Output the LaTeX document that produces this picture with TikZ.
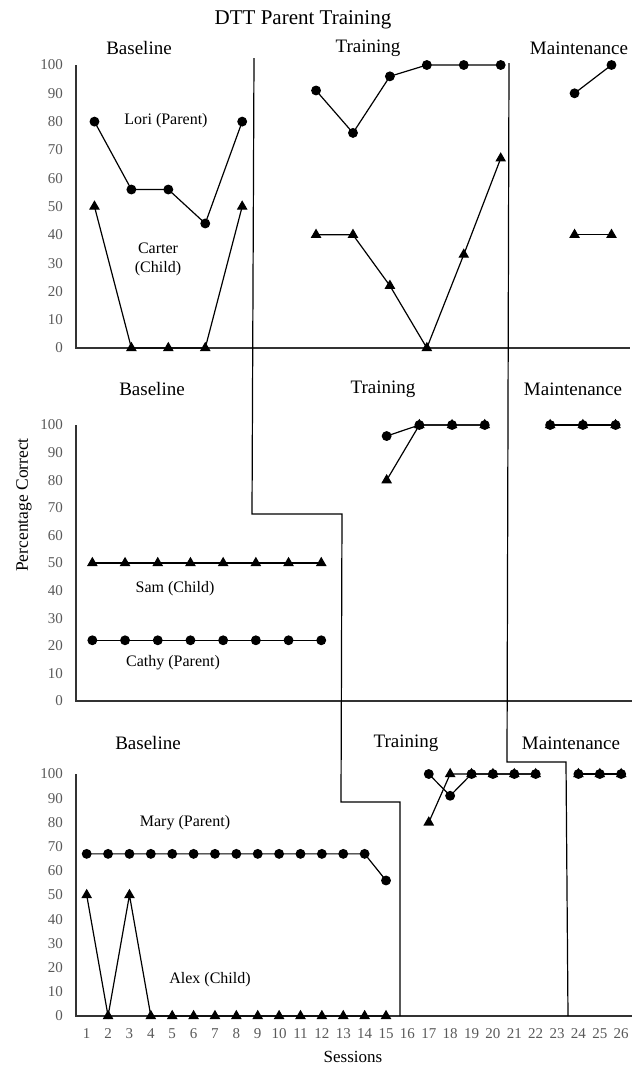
\documentclass[tikz,border=0pt]{standalone}
\usepackage{fontspec}
\setmainfont{Liberation Serif}
\usetikzlibrary{plotmarks}
\definecolor{tickgray}{HTML}{595959}
\tikzset{
  parent/.style={line width=1.2pt, mark=*, mark size=4.3pt, mark options={solid, fill=black}},
  child/.style={line width=1.2pt, mark=triangle*, mark size=5pt, mark options={solid, fill=black}},
  axisline/.style={line width=1.4pt, draw=black!80},
  phaseline/.style={line width=1.2pt},
  ticklabel/.style={font=\fontsize{15}{15}\selectfont, text=tickgray, inner sep=0pt},
  phasename/.style={font=\fontsize{19}{19}\selectfont, inner sep=0pt},
  who/.style={font=\fontsize{16}{19}\selectfont, inner sep=0pt, align=center},
}
\begin{document}
\begin{tikzpicture}[x=1pt, y=-1pt]
\useasboundingbox (0,0) rectangle (640,1066);
\node[font=\fontsize{21}{21}\selectfont, inner sep=0pt] (title) at (303,20) {DTT Parent Training};
% top: Lori and Carter
\begin{scope}[shift={(76pt,-348pt)}, x=36.93pt, y=2.83pt]
\draw[axisline] (0,100) -- (0,0) -- (15,0);
\foreach \v in {0,10,...,100} \node[ticklabel, anchor=east, xshift=-13pt] (ta\v) at (0,\v) {\v};
\draw[child] plot coordinates {(0.5,50) (1.5,0) (2.5,0) (3.5,0) (4.5,50)};
\draw[child] plot coordinates {(6.5,40) (7.5,40) (8.5,22) (9.5,0) (10.5,33) (11.5,67)};
\draw[child] plot coordinates {(13.5,40) (14.5,40)};
\draw[parent] plot coordinates {(0.5,80) (1.5,56) (2.5,56) (3.5,44) (4.5,80)};
\draw[parent] plot coordinates {(6.5,91) (7.5,76) (8.5,96) (9.5,100) (10.5,100) (11.5,100)};
\draw[parent] plot coordinates {(13.5,90) (14.5,100)};
\end{scope}
\node[phasename] (base1) at (139,48) {Baseline};
\node[phasename] (train1) at (368,48) {Training};
\node[phasename] (maint1) at (579,48) {Maintenance};
\node[who] (lori) at (166,121) {Lori (Parent)};
\node[who] (carter) at (158,259) {Carter\\(Child)};
% middle: Cathy and Sam
\begin{scope}[shift={(76pt,-701pt)}, x=32.7pt, y=2.76pt]
\draw[axisline] (0,100) -- (0,0) -- (17,0);
\foreach \v in {0,10,...,100} \node[ticklabel, anchor=east, xshift=-13pt] (tb\v) at (0,\v) {\v};
\draw[child] plot[samples at={0.5,1.5,...,7.5}] (\x,50);
\draw[child] plot coordinates {(9.5,80) (10.5,100) (11.5,100) (12.5,100)};
\draw[child] plot coordinates {(14.5,100) (15.5,100) (16.5,100)};
\draw[parent] plot[samples at={0.5,1.5,...,7.5}] (\x,22);
\draw[parent] plot coordinates {(9.5,96) (10.5,100) (11.5,100) (12.5,100)};
\draw[parent] plot coordinates {(14.5,100) (15.5,100) (16.5,100)};
\end{scope}
\node[phasename] (base2) at (152,389) {Baseline};
\node[phasename] (train2) at (383,389) {Training};
\node[phasename] (maint2) at (573,389) {Maintenance};
\node[who] (sam) at (175,589) {Sam (Child)};
\node[who] (cathy) at (173,663) {Cathy (Parent)};
% bottom: Mary and Alex
\begin{scope}[shift={(76pt,-1016pt)}, x=21.38pt, y=2.42pt]
\draw[axisline] (0,100) -- (0,0) -- (26,0);
\foreach \v in {0,10,...,100} \node[ticklabel, anchor=east, xshift=-13pt] (tc\v) at (0,\v) {\v};
\foreach \s in {1,...,26} \node[ticklabel, yshift=-18pt] (s\s) at (\s-0.5,0) {\s};
\draw[child] plot coordinates {(0.5,50) (1.5,0) (2.5,50) (3.5,0) (4.5,0) (5.5,0) (6.5,0) (7.5,0)
  (8.5,0) (9.5,0) (10.5,0) (11.5,0) (12.5,0) (13.5,0) (14.5,0)};
\draw[child] plot coordinates {(16.5,80) (17.5,100) (18.5,100) (19.5,100) (20.5,100) (21.5,100)};
\draw[child] plot coordinates {(23.5,100) (24.5,100) (25.5,100)};
\draw[parent] plot coordinates {(0.5,67) (1.5,67) (2.5,67) (3.5,67) (4.5,67) (5.5,67) (6.5,67) (7.5,67)
  (8.5,67) (9.5,67) (10.5,67) (11.5,67) (12.5,67) (13.5,67) (14.5,56)};
\draw[parent] plot coordinates {(16.5,100) (17.5,91) (18.5,100) (19.5,100) (20.5,100) (21.5,100)};
\draw[parent] plot coordinates {(23.5,100) (24.5,100) (25.5,100)};
\end{scope}
\node[phasename] (base3) at (148,743) {Baseline};
\node[phasename] (train3) at (406,743) {Training};
\node[phasename] (maint3) at (571,743) {Maintenance};
\node[who] (mary) at (185,823) {Mary (Parent)};
\node[who] (alex) at (210,980) {Alex (Child)};
\node[font=\fontsize{17}{17}\selectfont, inner sep=0pt] (sessions) at (353,1057) {Sessions};
\node[font=\fontsize{17.5}{17.5}\selectfont, inner sep=0pt, rotate=90] (pct) at (24,505) {Percentage Correct};
% phase change lines
\draw[phaseline] (254,58) -- (252,514) -- (342,514) -- (341,802) -- (400,802) -- (400,1016);
\draw[phaseline] (509,63) -- (507,762) -- (566,762) -- (568,1016);
\end{tikzpicture}
\end{document}
